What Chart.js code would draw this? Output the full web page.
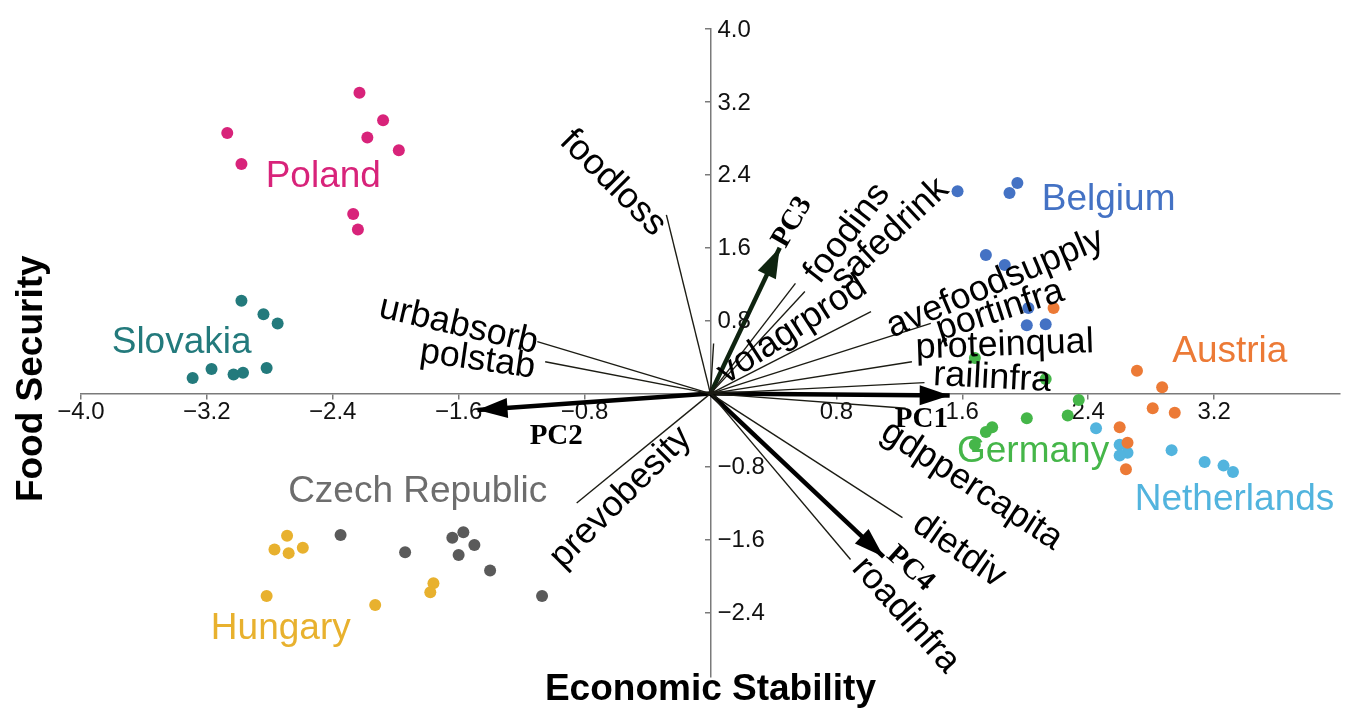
<!DOCTYPE html>
<html>
<head>
<meta charset="utf-8">
<title>Food Security vs Economic Stability</title>
<script src="https://cdn.jsdelivr.net/npm/chart.js@4.4.0/dist/chart.umd.min.js"></script>
<style>
  html, body { margin: 0; padding: 0; background: #fff; }
  #wrap { width: 1346px; height: 708px; }
</style>
</head>
<body>
<div id="wrap"><canvas id="biplot"></canvas></div>
<script>
// tick values
const xTicks = [-4.0, -3.2, -2.4, -1.6, -0.8, 0.8, 1.6, 2.4, 3.2];
const yTicks = [-2.4, -1.6, -0.8, 0.8, 1.6, 2.4, 3.2, 4.0];

// country scores
const countries = ["Poland", "Slovakia", "Czech Republic", "Hungary", "Belgium", "Austria", "Germany", "Netherlands"];
const polandX = [-2.23, -3.07, -2.08, -2.18, -1.98, -2.98, -2.27, -2.24];
const polandY = [3.30, 2.86, 3.00, 2.81, 2.67, 2.52, 1.97, 1.80];
const slovakiaX = [-2.98, -2.84, -2.75, -3.29, -3.17, -3.03, -2.97, -2.82];
const slovakiaY = [1.02, 0.87, 0.77, 0.17, 0.27, 0.21, 0.23, 0.28];
const czechX = [-2.35, -1.94, -1.64, -1.57, -1.50, -1.60, -1.40, -1.07];
const czechY = [-1.55, -1.74, -1.58, -1.52, -1.66, -1.77, -1.94, -2.22];
const hungaryX = [-2.69, -2.77, -2.68, -2.59, -2.82, -2.13, -1.76, -1.78];
const hungaryY = [-1.56, -1.71, -1.75, -1.69, -2.22, -2.32, -2.08, -2.18];
const belgiumX = [1.57, 1.95, 1.90, 1.75, 1.87, 2.02, 2.01, 2.13];
const belgiumY = [2.22, 2.31, 2.20, 1.52, 1.41, 0.94, 0.75, 0.76];
const austriaX = [2.18, 2.71, 2.87, 2.81, 2.95, 2.60, 2.65, 2.64];
const austriaY = [0.94, 0.25, 0.07, -0.16, -0.21, -0.37, -0.54, -0.83];
const germanyX = [1.68, 2.13, 2.34, 2.27, 2.01, 1.79, 1.75, 1.68];
const germanyY = [0.39, 0.16, -0.07, -0.24, -0.27, -0.37, -0.42, -0.56];
const netherlandsX = [2.45, 2.60, 2.65, 2.60, 2.93, 3.14, 3.26, 3.32];
const netherlandsY = [-0.38, -0.56, -0.65, -0.68, -0.62, -0.75, -0.79, -0.86];

// variable loadings (end of each thin line)
const varNames = ["foodloss", "urbabsorb", "polstab", "prevobesity", "foodins", "safedrink", "volagrprod",
  "avefoodsupply", "portinfra", "proteinqual", "railinfra", "gdppercapita", "dietdiv", "roadinfra"];
const varX = [-0.28, -1.10, -1.05, -0.85, 0.54, 0.60, 0.02, 1.02, 1.40, 1.28, 1.36, 1.24, 1.22, 0.89];
const varY = [1.96, 0.57, 0.35, -1.20, 1.21, 1.12, 0.55, 0.90, 0.77, 0.35, 0.12, -0.16, -1.36, -1.82];

// principal component arrows
const pcNames = ["PC1", "PC2", "PC3", "PC4"];
const pcX = [1.52, -1.48, 0.44, 1.10];
const pcY = [-0.02, -0.18, 1.60, -1.79];

// where the texts sit (data units) and their rotation in degrees
const countryLabelX = [-2.46, -3.36, -1.86, -2.73, 2.53, 3.30, 2.05, 3.33];
const countryLabelY = [2.38, 0.56, -1.08, -2.58, 2.13, 0.46, -0.64, -1.17];
const varLabelX = [-0.62, -1.60, -1.48, -0.57, 0.87, 1.14, 0.52, 1.81, 1.84, 1.87, 1.79, 1.66, 1.58, 1.24];
const varLabelY = [2.31, 0.75, 0.37, -1.14, 1.76, 1.75, 0.70, 1.21, 0.91, 0.53, 0.17, -1.01, -1.72, -2.43];
const varLabelAngle = [45, 13, 8, -45, -52, -43, -33, -23, -18, -2, 3, 33, 35, 48];
const pcLabelX = [1.34, -0.98, 0.52, 1.27];
const pcLabelY = [-0.28, -0.47, 1.88, -1.92];
const pcLabelAngle = [0, 0, -60, 42];

const colors = ["#d8237a", "#237a7c", "#5a5a5a", "#e8b12e", "#4472c4", "#ec7a36", "#45b649", "#52b4de"];
const labelColors = ["#d8237a", "#237a7c", "#6d6d6d", "#e8b12e", "#4472c4", "#ec7a36", "#45b649", "#52b4de"];

const SANS = "'Liberation Sans', Arial, Helvetica, sans-serif";
const SERIF = "'Liberation Serif', 'Times New Roman', serif";
const AXIS_GREY = "#7a7a7a";

function fmt(v) {
    return (v < 0 ? "\u2212" : "") + Math.abs(v).toFixed(1);
}

function pts(xs, ys) {
    return xs.map((v, i) => ({ x: v, y: ys[i] }));
}

const scores = [
    pts(polandX, polandY), pts(slovakiaX, slovakiaY), pts(czechX, czechY), pts(hungaryX, hungaryY),
    pts(belgiumX, belgiumY), pts(austriaX, austriaY), pts(germanyX, germanyY), pts(netherlandsX, netherlandsY)
];

let datasets = [];
countries.forEach((c, i) => {
    datasets.push({
        label: c,
        data: scores[i],
        backgroundColor: colors[i],
        borderWidth: 0,
        pointRadius: 6,
        pointHoverRadius: 6
    });
});
varNames.forEach((n, i) => {
    datasets.push({
        label: n,
        data: [{ x: 0, y: 0 }, { x: varX[i], y: varY[i] }],
        showLine: true,
        borderColor: "#1c1c14",
        borderWidth: 1.4,
        pointRadius: 0
    });
});
pcNames.forEach((n, i) => {
    datasets.push({
        label: n,
        data: [{ x: 0, y: 0 }, { x: pcX[i], y: pcY[i] }],
        showLine: true,
        borderColor: i == 2 ? "#0f2410" : "#000",
        borderWidth: 4.5,
        pointRadius: 0
    });
});

function drawText(ctx, text, px, py, angle, font, color) {
    ctx.save();
    ctx.translate(px, py);
    ctx.rotate(angle * Math.PI / 180);
    ctx.font = font;
    ctx.fillStyle = color;
    ctx.textAlign = "center";
    ctx.textBaseline = "middle";
    ctx.fillText(text, 0, 0);
    ctx.restore();
}

// arrow heads, right-hand y tick labels and all the annotations
const overlay = {
    id: "overlay",
    afterDatasetsDraw(chart) {
        const ctx = chart.ctx;
        const sx = chart.scales.x, sy = chart.scales.y;
        const ox = sx.getPixelForValue(0), oy = sy.getPixelForValue(0);

        pcNames.forEach((n, i) => {
            const tx = sx.getPixelForValue(pcX[i]), ty = sy.getPixelForValue(pcY[i]);
            const a = Math.atan2(ty - oy, tx - ox);
            const len = 30, half = 10;
            const bx = tx - len * Math.cos(a), by = ty - len * Math.sin(a);
            ctx.save();
            ctx.fillStyle = i == 2 ? "#0f2410" : "#000";
            ctx.beginPath();
            ctx.moveTo(tx, ty);
            ctx.lineTo(bx - half * Math.sin(a), by + half * Math.cos(a));
            ctx.lineTo(bx + half * Math.sin(a), by - half * Math.cos(a));
            ctx.closePath();
            ctx.fill();
            ctx.restore();
        });

        ctx.save();
        ctx.font = "24px " + SANS;
        ctx.fillStyle = "#111";
        ctx.textAlign = "left";
        ctx.textBaseline = "middle";
        sy.ticks.forEach(t => {
            ctx.fillText(fmt(t.value), ox + 7, sy.getPixelForValue(t.value) + 1);
        });
        ctx.restore();

        countries.forEach((c, i) => {
            drawText(ctx, c, sx.getPixelForValue(countryLabelX[i]), sy.getPixelForValue(countryLabelY[i]),
                0, "37px " + SANS, labelColors[i]);
        });
        varNames.forEach((n, i) => {
            drawText(ctx, n, sx.getPixelForValue(varLabelX[i]), sy.getPixelForValue(varLabelY[i]),
                varLabelAngle[i], "36px " + SANS, "#000");
        });
        pcNames.forEach((n, i) => {
            drawText(ctx, n, sx.getPixelForValue(pcLabelX[i]), sy.getPixelForValue(pcLabelY[i]),
                pcLabelAngle[i], "bold 29px " + SERIF, "#000");
        });
    }
};

const axisGrid = { drawOnChartArea: false, drawTicks: true, tickLength: 5, color: AXIS_GREY, lineWidth: 1.5 };
const axisBorder = { display: true, color: AXIS_GREY, width: 1.5 };
const hidden = { grid: { display: false, drawTicks: false }, border: { display: false }, ticks: { display: false } };

new Chart(document.getElementById("biplot"), {
    type: "scatter",
    data: { datasets: datasets },
    options: {
        responsive: true,
        maintainAspectRatio: false,
        animation: false,
        devicePixelRatio: 1,
        layout: { padding: { top: 29, right: 6, bottom: 0, left: 0 } },
        plugins: { legend: { display: false }, tooltip: { enabled: false } },
        scales: {
            x: {
                type: "linear", min: -4, max: 4,
                position: { y: 0 },
                afterBuildTicks: s => { s.ticks = xTicks.map(v => ({ value: v })); },
                afterFit: s => { s.height = 0; },
                grid: axisGrid,
                border: axisBorder,
                ticks: {
                    color: "#111", padding: 2, maxRotation: 0, autoSkip: false,
                    font: { family: SANS, size: 24, lineHeight: 1 },
                    callback: v => fmt(v)
                }
            },
            y: {
                type: "linear", min: -3.11, max: 4,
                position: { x: 0 },
                afterBuildTicks: s => { s.ticks = yTicks.map(v => ({ value: v })); },
                afterFit: s => { s.width = 0; },
                grid: axisGrid,
                border: axisBorder,
                ticks: { display: false }
            },
            xt: Object.assign({
                type: "linear", position: "bottom",
                title: {
                    display: true, text: "Economic Stability", color: "#000",
                    font: { family: SANS, size: 37, weight: "bold", lineHeight: 0.7 },
                    padding: { top: 0, bottom: 5 }
                }
            }, hidden),
            yt: Object.assign({
                type: "linear", position: "left",
                title: {
                    display: true, text: "Food Security\u00a0\u00a0\u00a0\u00a0\u00a0", color: "#000",
                    font: { family: SANS, size: 37, weight: "bold", lineHeight: 0.7 },
                    padding: { top: 19, bottom: 36 }
                }
            }, hidden)
        }
    },
    plugins: [overlay]
});
</script>
</body>
</html>
